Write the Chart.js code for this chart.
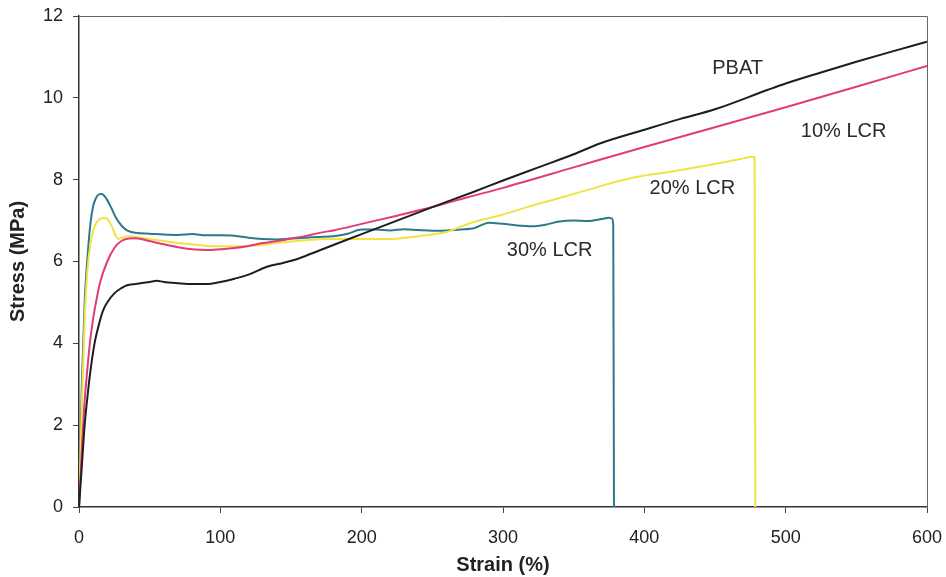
<!DOCTYPE html>
<html>
<head>
<meta charset="utf-8">
<script src="https://cdn.jsdelivr.net/npm/chart.js@4"></script>
<style>
  html, body { margin: 0; padding: 0; background: #fff; }
  #wrap { width: 946px; height: 577px; }
</style>
</head>
<body>
<div id="wrap"><canvas id="stressChart" width="946" height="577"></canvas></div>
<script>
// series values
const pbatStrain = [0, 2, 4, 6, 8, 11, 14, 17, 20, 25, 30, 34, 40, 50, 55, 60, 70, 80, 90, 100, 110, 120, 133, 145, 156, 170, 185, 200, 225, 250, 279, 300, 325, 350, 369, 400, 425, 450, 487, 500, 525, 550, 575, 600];
const pbatStress = [0, 1.0, 2.0, 2.7, 3.3, 4.0, 4.45, 4.8, 5.0, 5.22, 5.35, 5.42, 5.45, 5.5, 5.53, 5.5, 5.47, 5.45, 5.45, 5.5, 5.58, 5.68, 5.87, 5.97, 6.08, 6.27, 6.47, 6.67, 7.0, 7.33, 7.7, 7.98, 8.3, 8.62, 8.89, 9.22, 9.48, 9.72, 10.19, 10.35, 10.62, 10.88, 11.13, 11.37];

const lcr10Strain = [0, 2, 4, 6, 8, 10, 12, 15, 20, 25, 30, 35, 40, 50, 60, 70, 80, 90, 100, 110, 120, 130, 140, 150, 160, 170, 180, 200, 225, 250, 275, 300, 350, 400, 450, 500, 550, 600];
const lcr10Stress = [0, 1.4, 2.6, 3.4, 4.1, 4.6, 5.0, 5.5, 6.0, 6.33, 6.5, 6.56, 6.57, 6.5, 6.42, 6.35, 6.3, 6.28, 6.3, 6.33, 6.38, 6.45, 6.5, 6.56, 6.62, 6.7, 6.76, 6.92, 7.12, 7.33, 7.57, 7.8, 8.3, 8.8, 9.28, 9.77, 10.27, 10.78];

const lcr20Strain = [0, 2, 4, 6, 8, 10, 12, 14, 16, 18, 20, 22, 24, 26, 28, 30, 35, 40, 50, 60, 70, 80, 90, 100, 120, 140, 160, 180, 200, 220, 240, 250, 260, 270, 280, 290, 300, 320, 340, 360, 380, 400, 420, 440, 460, 470, 476, 478, 478.5];
const lcr20Stress = [0, 2.5, 4.6, 5.8, 6.4, 6.75, 6.93, 7.02, 7.06, 7.07, 7.04, 6.95, 6.8, 6.62, 6.55, 6.58, 6.62, 6.6, 6.55, 6.5, 6.45, 6.42, 6.38, 6.37, 6.38, 6.45, 6.52, 6.55, 6.55, 6.55, 6.62, 6.66, 6.72, 6.85, 6.97, 7.06, 7.15, 7.36, 7.55, 7.75, 7.95, 8.1, 8.2, 8.32, 8.45, 8.52, 8.56, 8.55, 0];

const lcr30Strain = [0, 2, 4, 6, 8, 10, 12, 14, 16, 18, 20, 23, 26, 30, 34, 40, 50, 60, 70, 80, 90, 100, 110, 120, 130, 140, 150, 160, 170, 180, 190, 200, 210, 220, 230, 240, 250, 260, 270, 280, 290, 300, 310, 320, 330, 340, 350, 360, 370, 375, 377, 378, 378.5];
const lcr30Stress = [0, 3.0, 5.0, 6.1, 6.9, 7.35, 7.55, 7.64, 7.65, 7.6, 7.5, 7.3, 7.08, 6.88, 6.76, 6.7, 6.68, 6.66, 6.65, 6.67, 6.64, 6.64, 6.63, 6.58, 6.55, 6.54, 6.56, 6.58, 6.6, 6.62, 6.68, 6.78, 6.78, 6.76, 6.79, 6.77, 6.75, 6.76, 6.78, 6.82, 6.95, 6.92, 6.88, 6.86, 6.9, 6.98, 7.0, 6.99, 7.04, 7.07, 7.05, 6.9, 0];

const xTicks = [0, 100, 200, 300, 400, 500, 600];
const yTicks = [0, 2, 4, 6, 8, 10, 12];

// curve names written next to the lines (strain, stress anchor)
const curveNames = ['PBAT', '10% LCR', '20% LCR', '30% LCR'];
const nameStrain = [466, 541, 434, 333];
const nameStress = [10.71, 9.18, 7.79, 6.27];

function toPoints(xs, ys) {
    return xs.map(function(x, i) { return { x: x, y: ys[i] }; });
}

const lineFont = "'Liberation Sans', Arial, sans-serif";

const frameAndNames = {
    id: 'frameAndNames',
    afterDatasetsDraw: function(chart) {
        const ctx = chart.ctx;
        const a = chart.chartArea;
        ctx.save();
        ctx.strokeStyle = '#666';
        ctx.lineWidth = 1;
        ctx.beginPath();
        ctx.moveTo(a.left, a.top + 0.5);
        ctx.lineTo(a.right + 0.5, a.top + 0.5);
        ctx.lineTo(a.right + 0.5, a.bottom);
        ctx.stroke();

        ctx.fillStyle = '#2b2b2b';
        ctx.font = '20px ' + lineFont;
        ctx.textAlign = 'center';
        ctx.textBaseline = 'middle';
        curveNames.forEach(function(name, i) {
            const px = chart.scales.x.getPixelForValue(nameStrain[i]);
            const py = chart.scales.y.getPixelForValue(nameStress[i]);
            ctx.fillText(name, px, py);
        });
        ctx.restore();
    }
};

const ctx = document.getElementById('stressChart').getContext('2d');

const stressChart = new Chart(ctx, {
    type: 'scatter',
    data: {
        datasets: [
            { label: 'PBAT', data: toPoints(pbatStrain, pbatStress), borderColor: '#1e1e22' },
            { label: '10% LCR', data: toPoints(lcr10Strain, lcr10Stress), borderColor: '#e23a7c' },
            { label: '20% LCR', data: toPoints(lcr20Strain, lcr20Stress), borderColor: '#f3e246' },
            { label: '30% LCR', data: toPoints(lcr30Strain, lcr30Stress), borderColor: '#2a7a8a' }
        ].map(function(ds) {
            ds.showLine = true;
            ds.pointRadius = 0;
            ds.borderWidth = 2;
            ds.tension = 0;
            ds.cubicInterpolationMode = 'monotone';
            return ds;
        })
    },
    options: {
        responsive: false,
        animation: false,
        layout: { padding: { top: 16, right: 19, left: 0, bottom: 0 } },
        plugins: {
            legend: { display: false },
            tooltip: { enabled: false }
        },
        scales: {
            x: {
                type: 'linear',
                min: 0,
                max: 600,
                afterFit: function(scale) {
                    scale.height = 70;
                    scale.paddingLeft = 0;
                    scale.paddingRight = 0;
                },
                afterBuildTicks: function(scale) {
                    scale.ticks = xTicks.map(function(v) { return { value: v }; });
                },
                grid: { drawOnChartArea: false, drawTicks: true, tickLength: 6, color: '#444' },
                border: { color: '#333', width: 1.5 },
                ticks: {
                    color: '#222',
                    padding: 14,
                    font: { family: lineFont, size: 18 }
                },
                title: {
                    display: true,
                    text: 'Strain (%)',
                    color: '#222',
                    padding: { top: 0, bottom: 0 },
                    font: { family: lineFont, size: 20, weight: 'bold' }
                }
            },
            y: {
                type: 'linear',
                min: 0,
                max: 12,
                afterFit: function(scale) {
                    scale.width = 79;
                    scale.paddingTop = 0;
                    scale.paddingBottom = 0;
                },
                afterBuildTicks: function(scale) {
                    scale.ticks = yTicks.map(function(v) { return { value: v }; });
                },
                grid: { drawOnChartArea: false, drawTicks: true, tickLength: 6, color: '#444' },
                border: { color: '#333', width: 1.5 },
                ticks: {
                    color: '#222',
                    padding: 10,
                    font: { family: lineFont, size: 18 }
                },
                title: {
                    display: true,
                    text: 'Stress (MPa)',
                    color: '#222',
                    padding: { top: 6, bottom: 0 },
                    font: { family: lineFont, size: 20, weight: 'bold' }
                }
            }
        }
    },
    plugins: [frameAndNames]
});
</script>
</body>
</html>
